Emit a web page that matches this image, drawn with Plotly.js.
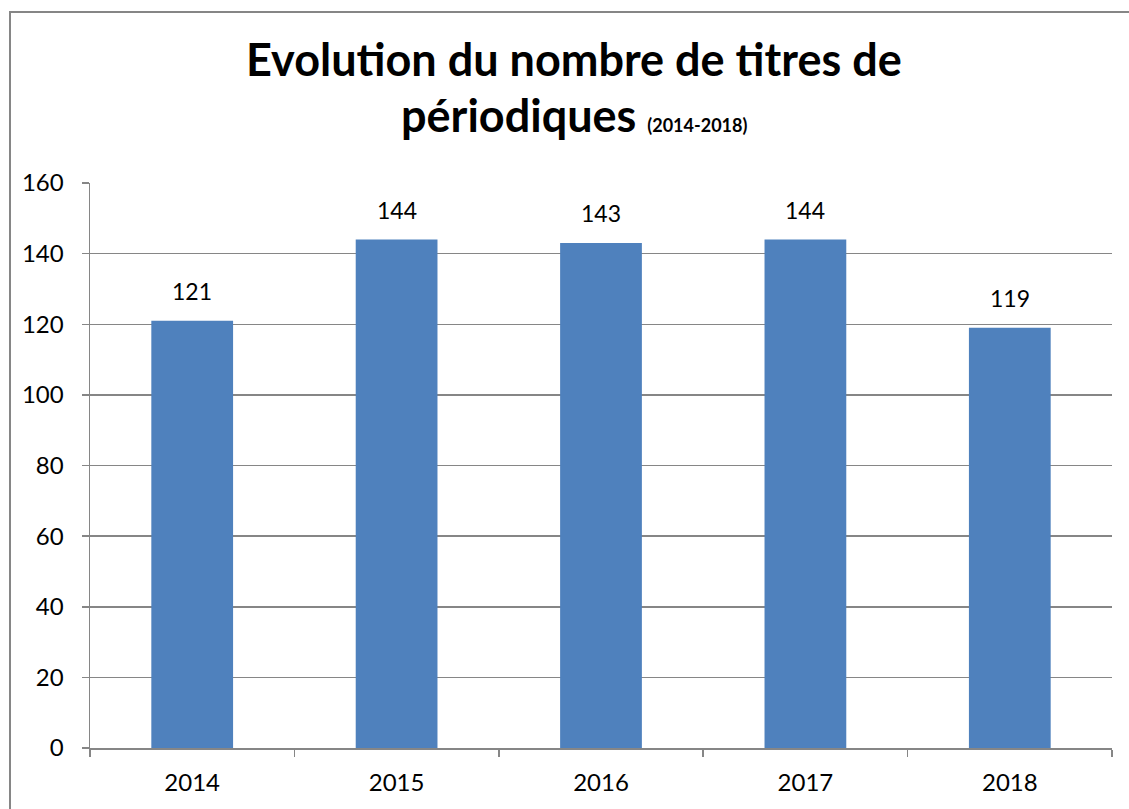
<!DOCTYPE html>
<html><head><meta charset="utf-8">
<script src="https://cdn.plot.ly/plotly-3.0.1.min.js"></script>
<style>
html,body{margin:0;padding:0;background:#fff;overflow:hidden;}
#frame{position:absolute;left:9px;top:11px;width:1200px;height:900px;border:2px solid #868686;box-sizing:border-box;pointer-events:none;z-index:5;}
#chart{position:absolute;left:0;top:0;width:1129px;height:809px;}
</style></head>
<body>
<div id="chart"></div>
<div id="frame"></div>
<script>
const years = ['2014','2015','2016','2017','2018'];
const titres = [121, 144, 143, 144, 119];
const yTicks = [0,20,40,60,80,100,120,140,160];

const FONT = 'Lato, "Open Sans", "Liberation Sans", sans-serif';

const trace = {
  type: 'bar',
  x: years,
  y: titres,
  width: 0.4,
  marker: {color: '#4F81BD'},
  hoverinfo: 'x+y'
};

// category axis: annotation x given as the category index
const dataLabels = years.map((yr, i) => ({
  x: i, y: titres[i], xref: 'x', yref: 'y',
  text: String(titres[i]), showarrow: false,
  xanchor: 'center', yanchor: 'bottom', yshift: 14,
  font: {family: FONT, size: 23, color: '#000'}
}));

const PH = 565;
const layout = {
  width: 1129, height: 809,
  margin: {l: 90, r: 17, t: 183, b: 61},
  paper_bgcolor: '#fff', plot_bgcolor: '#fff',
  showlegend: false,
  font: {family: FONT, color: '#000'},
  xaxis: {
    type: 'category',
    tickson: 'boundaries',
    ticks: 'outside', ticklen: 7, tickcolor: '#868686', tickwidth: 1.5,
    showline: true, linecolor: '#868686', linewidth: 1.5,
    showgrid: false,
    tickfont: {family: FONT, size: 24, color: '#000'},
    ticklabelstandoff: 13,
    range: [-0.5, 4.5]
  },
  yaxis: {
    range: [0, 160],
    tickvals: yTicks,
    ticktext: yTicks.map(String),
    ticks: 'outside', ticklen: 7, tickcolor: '#868686', tickwidth: 1.5,
    showline: true, linecolor: '#868686', linewidth: 1.5,
    showgrid: true, gridcolor: '#868686', gridwidth: 1.5,
    zeroline: false,
    tickfont: {family: FONT, size: 24, color: '#000'},
    ticklabelstandoff: 13
  },
  annotations: [
    {xref: 'paper', yref: 'paper', x: 0.4736, y: 1 + (183-59)/PH, xanchor: 'center', yanchor: 'middle',
     text: '<b>Evolution du nombre de titres de</b>', showarrow: false,
     font: {family: FONT, size: 45, color: '#000'}},
    {xref: 'paper', yref: 'paper', x: 0.4736, y: 1 + (183-115)/PH, xanchor: 'center', yanchor: 'middle',
     text: '<b>périodiques <span style="font-size:18px">(2014-2018)</span></b>', showarrow: false,
     font: {family: FONT, size: 45, color: '#000'}}
  ].concat(dataLabels)
};

Plotly.newPlot('chart', [trace], layout, {displayModeBar: false, staticPlot: true});
</script>
</body></html>
